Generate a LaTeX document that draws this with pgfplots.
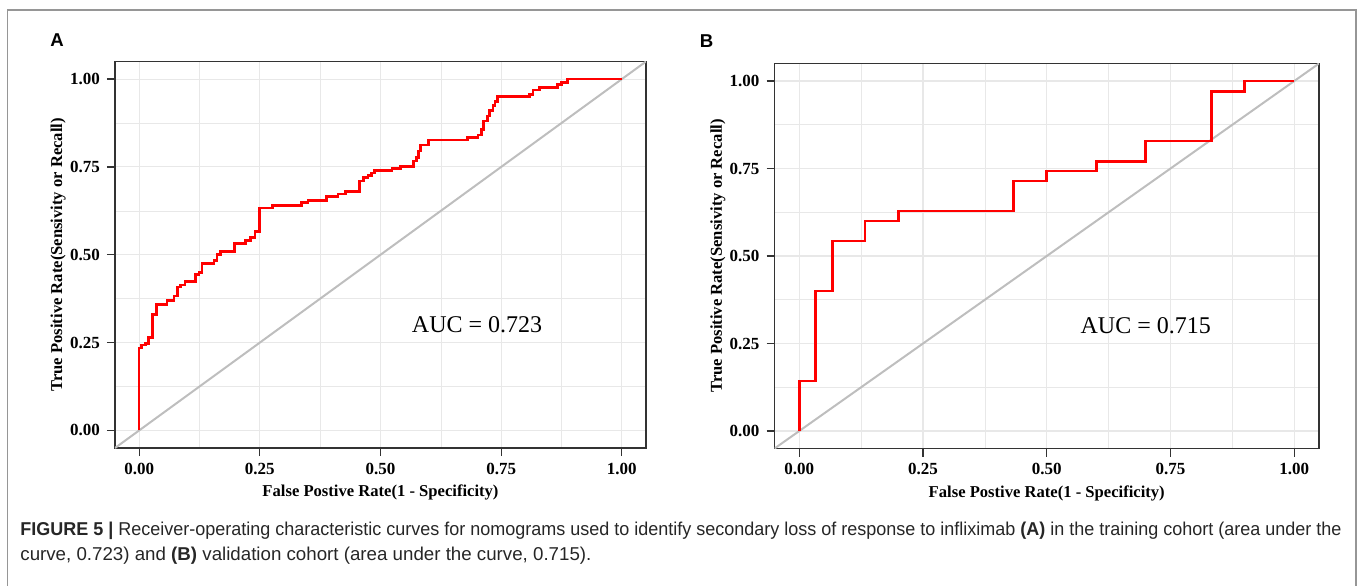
\documentclass[border=0pt]{standalone}
\usepackage{pgfplots}
\pgfplotsset{compat=1.18}
\usepackage{fontspec}
\setmainfont{Liberation Serif}
\setsansfont{Liberation Sans}
\newfontfamily\capfont{Liberation Sans}

\definecolor{rocred}{RGB}{255,0,0}
\definecolor{diagc}{RGB}{190,190,190}
\definecolor{gridc}{RGB}{232,232,232}
\definecolor{framec}{RGB}{150,150,150}
\definecolor{boxc}{RGB}{51,51,51}

\pgfplotsset{
  rocax/.style={
    scale only axis,
    xmin=-0.05, xmax=1.05, ymin=-0.05, ymax=1.05,
    xtick={0,0.25,0.5,0.75,1}, ytick={0,0.25,0.5,0.75,1},
    xticklabels={0.00,0.25,0.50,0.75,1.00},
    yticklabels={0.00,0.25,0.50,0.75,1.00},
    minor tick num=1,
    grid=both,
    major grid style={gridc, line width=0.55pt},
    minor grid style={gridc, line width=0.3pt},
    tick pos=left, tick align=outside,
    major tick length=4pt, minor tick length=0pt,
    every tick/.style={boxc, line width=0.6pt},
    axis line style={boxc, line width=0.6pt},
    ticklabel style={font=\bfseries\fontsize{8.5}{10}\selectfont},
    label style={font=\bfseries\fontsize{8.3}{10}\selectfont},
    xlabel={False Postive Rate(1 - Specificity)},
    ylabel={True Positive Rate(Sensivity or Recall)},
  },
  roccurve/.style={rocred, line width=1.35pt, const plot},
  diagline/.style={diagc, line width=1pt},
}

\begin{document}
\begin{tikzpicture}
\path[use as bounding box] (0,0) rectangle (678.5pt,-292.5pt);

% figure frame (bottom edge lies below the page)
\draw[framec, line width=0.6pt] (3.85pt,-310pt) -- (3.85pt,-5pt) -- (678pt,-5pt) -- (678pt,-310pt);

\node[font=\sffamily\bfseries\fontsize{9.3}{11}\selectfont] at (28.5pt,-20pt) {A};
\node[font=\sffamily\bfseries\fontsize{9.3}{11}\selectfont] at (353.25pt,-20.5pt) {B};

% panel A: training cohort
\begin{axis}[rocax,
  at={(57.5pt,-224pt)}, anchor=south west,
  width=265.5pt, height=193.25pt,
  xlabel style={at={(axis description cs:0.5,-0.116)}, anchor=center},
  ylabel style={at={(axis description cs:-0.107,0.5)}, anchor=center},
]
\addplot[diagline] coordinates {(-0.05,-0.05) (1.05,1.05)};
\addplot[roccurve] coordinates {
  (0,0) (0,0.235) (0.0055,0.243) (0.0137,0.248) (0.019,0.264) (0.0275,0.329)
  (0.0357,0.359) (0.058,0.370) (0.072,0.383) (0.080,0.408) (0.086,0.414)
  (0.095,0.424) (0.117,0.443) (0.124,0.450) (0.130,0.476) (0.155,0.483)
  (0.161,0.500) (0.168,0.510) (0.198,0.533) (0.220,0.540) (0.230,0.550)
  (0.240,0.567) (0.250,0.633) (0.276,0.640) (0.336,0.648) (0.350,0.654)
  (0.388,0.665) (0.412,0.673) (0.427,0.681) (0.457,0.710) (0.465,0.719)
  (0.474,0.726) (0.482,0.733) (0.488,0.740) (0.524,0.746) (0.541,0.752)
  (0.569,0.767) (0.574,0.776) (0.578,0.795) (0.583,0.812) (0.599,0.827)
  (0.680,0.833) (0.702,0.841) (0.709,0.857) (0.714,0.881) (0.721,0.895)
  (0.726,0.911) (0.733,0.924) (0.737,0.936) (0.742,0.950) (0.809,0.957)
  (0.816,0.969) (0.829,0.976) (0.866,0.984) (0.875,0.990) (0.887,1.000)
  (1,1)
};
\node[font=\fontsize{12}{14}\selectfont] at (axis cs:0.7,0.3) {AUC = 0.723};
\end{axis}

% panel B: validation cohort
\begin{axis}[rocax,
  at={(387.25pt,-224.25pt)}, anchor=south west,
  width=272.25pt, height=192.5pt,
  xlabel style={at={(axis description cs:0.5,-0.117)}, anchor=center},
  ylabel style={at={(axis description cs:-0.104,0.5)}, anchor=center},
]
\addplot[diagline] coordinates {(-0.05,-0.05) (1.05,1.05)};
\addplot[roccurve] coordinates {
  (0,0) (0,0.143) (0.033,0.400) (0.067,0.543) (0.133,0.600) (0.200,0.629)
  (0.433,0.714) (0.500,0.743) (0.600,0.771) (0.700,0.829) (0.833,0.971)
  (0.900,1.000) (1,1)
};
\node[font=\fontsize{12}{14}\selectfont] at (axis cs:0.7,0.3) {AUC = 0.715};
\end{axis}

% caption
\node[anchor=base west, inner sep=0pt, text=black!85] at (10pt,-267.5pt)
  {\resizebox{660.5pt}{\height}{\capfont\fontsize{9.3}{11}\selectfont\textbf{FIGURE 5 |} Receiver-operating characteristic curves for nomograms used to identify secondary loss of response to infliximab \textbf{(A)} in the training cohort (area under the}};
\node[anchor=base west, inner sep=0pt, text=black!85] at (10pt,-280pt)
  {\resizebox{285.5pt}{\height}{\capfont\fontsize{9.3}{11}\selectfont curve, 0.723) and \textbf{(B)} validation cohort (area under the curve, 0.715).}};
\end{tikzpicture}
\end{document}
